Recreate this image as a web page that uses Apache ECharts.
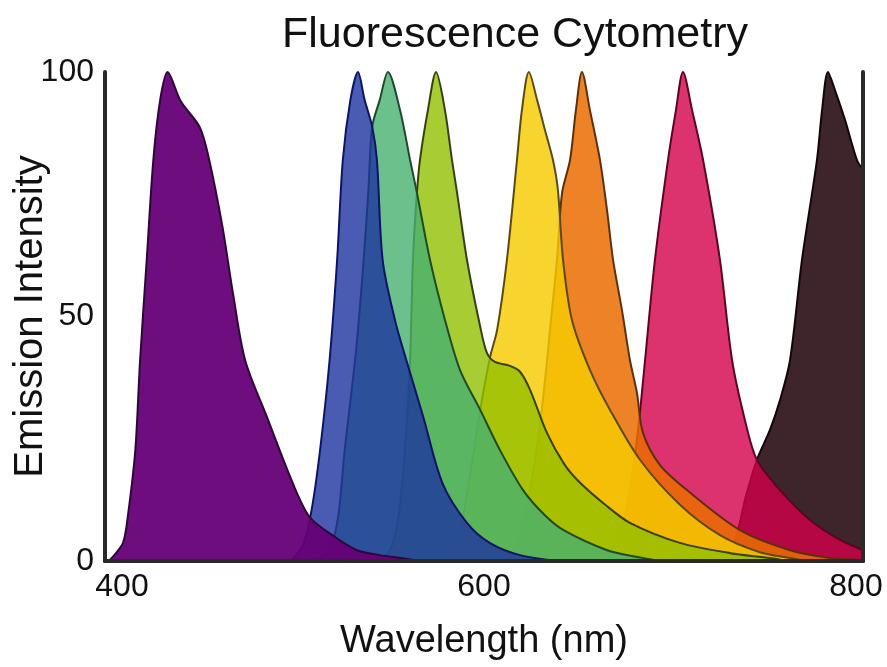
<!DOCTYPE html>
<html>
<head>
<meta charset="utf-8">
<script src="https://cdn.jsdelivr.net/npm/echarts@6/dist/echarts.min.js"></script>
<style>
html,body{margin:0;padding:0;background:#fff;}
#chart{width:887px;height:667px;}
</style>
</head>
<body>
<div id="chart"></div>
<script>
// Data (wavelength nm, emission intensity %)
const purpleX = [402, 404, 409.5, 412, 416, 418.5, 422, 425.5, 429, 433, 440, 450, 455, 462, 467.5, 474, 485.5, 499, 508, 521, 533, 545, 556, 566];
const purpleY = [0, 0.8, 3.7, 9, 22.7, 41, 61.5, 82, 94, 100, 94, 88.7, 82, 68.3, 54.8, 41, 29.4, 16, 9, 5, 2.2, 1.2, 0.6, 0];
const blueX = [498, 504.5, 509, 513.5, 518.5, 522.5, 525.5, 529.5, 533.5, 537, 541, 543.5, 546.5, 553, 559, 568, 578, 591, 603, 619, 640];
const blueY = [0, 3.3, 10.4, 22.7, 41, 61.6, 82, 94.3, 100, 94.3, 88.8, 82, 61.6, 49.3, 41.1, 29.4, 16, 7.8, 3.7, 1.2, 0];
const tealX = [511, 518.5, 523, 526.5, 532.5, 536.5, 539, 541, 545, 549.3, 555.7, 561, 564.6, 571.5, 579.4, 587.3, 598, 608.4, 620.6, 632, 642, 665, 681, 693];
const tealY = [0, 2.2, 9, 22.7, 43.1, 61.6, 75.9, 88.8, 94.3, 100, 92.2, 82, 75.3, 61.6, 49.3, 39.1, 30.9, 22.7, 14.5, 9.4, 6.3, 2.2, 0.8, 0];
const limeX = [544, 550.4, 554.6, 558.3, 561, 562.5, 564.6, 566.2, 570.4, 574.7, 579.4, 583.1, 585.8, 591, 598, 601.6, 605.8, 613.7, 619, 624.3, 633.2, 642.7, 650.7, 664, 677, 703.4, 730, 751, 760];
const limeY = [0, 2.2, 8.4, 22.7, 41.1, 61.6, 75.3, 82, 92.2, 100, 92.2, 82, 75.3, 61.6, 47.9, 42.5, 40.7, 39.9, 38.7, 35, 26.2, 19.6, 16, 11.5, 7.8, 3.7, 1.6, 0.6, 0];
const yellowX = [580, 586.3, 590.5, 594.7, 598.9, 603.2, 606.9, 612.1, 617.4, 620, 623.7, 628, 632.2, 636.4, 639, 641.7, 646.4, 655.9, 666.5, 682.3, 703.4, 724.5, 745.6, 761.5, 770];
const yellowY = [0, 4.3, 12.5, 22.7, 32.9, 41.7, 47.2, 61.6, 82, 92.2, 100, 94.3, 88.1, 82, 75.9, 61.6, 49.3, 39.1, 30.9, 20.7, 11.5, 5.3, 1.8, 0.6, 0];
const orangeX = [608, 616.4, 623.2, 628.5, 632.2, 634.8, 638.5, 641.2, 645.4, 648.5, 651.7, 655.9, 661.2, 664.9, 668.1, 672.8, 677, 680.7, 683.9, 692.9, 707.1, 735.1, 761.5, 782.6, 800];
const orangeY = [0, 3.3, 12.5, 24.7, 37, 47.2, 61.6, 75.3, 82, 92.2, 100, 92.2, 82, 71.8, 61.6, 51.3, 41.1, 34.4, 26.2, 19.6, 14.5, 6.3, 2.2, 0.6, 0.2];
const pinkX = [654, 663.9, 671.8, 677, 681.3, 685, 690.2, 697.1, 701.3, 705, 709.8, 715.6, 724.5, 730.9, 737.7, 744, 756.2, 772, 787.9, 800];
const pinkY = [0, 1.8, 6.3, 14.5, 26.8, 41.1, 61.6, 82, 92.2, 100, 92.2, 82, 61.6, 41.1, 28.8, 20.7, 14.5, 8.4, 4.3, 2.2];
const brownX = [722, 729.8, 734, 737.7, 744, 750.9, 756.2, 761.5, 767.8, 775.7, 778.4, 781.5, 785.2, 790.5, 796.8, 800];
const brownY = [0, 2.2, 6.3, 12.5, 20.7, 26.8, 32.9, 41.1, 61.6, 82, 92.2, 100, 96.3, 90.2, 82, 80];

const xTicks = [400, 600, 800];
const yTicks = [0, 50, 100];

const dyes = [
  {name: 'purple', x: purpleX, y: purpleY, fill: '#660077', line: '#2e0638', op: 0.95},
  {name: 'blue',   x: blueX,   y: blueY,   fill: '#1d339e', line: '#0c1466', op: 0.8},
  {name: 'teal',   x: tealX,   y: tealY,   fill: '#47b06f', line: '#1f4a2c', op: 0.8},
  {name: 'lime',   x: limeX,   y: limeY,   fill: '#92bf00', line: '#35420e', op: 0.8},
  {name: 'yellow', x: yellowX, y: yellowY, fill: '#f5cc00', line: '#5c4a10', op: 0.82},
  {name: 'orange', x: orangeX, y: orangeY, fill: '#ea6d00', line: '#5e3008', op: 0.85},
  {name: 'pink',   x: pinkX,   y: pinkY,   fill: '#d3004a', line: '#5e0422', op: 0.8},
  {name: 'brown',  x: brownX,  y: brownY,  fill: '#341820', line: '#140606', op: 0.95}
];

const series = dyes.map((d, i) => ({
  name: d.name,
  type: 'line',
  data: d.x.map((v, k) => [v, d.y[k]]),
  showSymbol: false,
  smooth: 0.3,
  z: 20 - i,
  lineStyle: {color: d.line, width: 2},
  areaStyle: {color: d.fill, opacity: d.op},
  silent: true
}));

const font = 'Liberation Sans, Arial, sans-serif';
const tickText = {fontFamily: font, fontSize: 32, color: '#111'};
const chart = echarts.init(document.getElementById('chart'), null, {renderer: 'canvas'});
chart.setOption({
  backgroundColor: '#ffffff',
  animation: false,
  title: {
    text: 'Fluorescence Cytometry',
    left: 277, top: 9,
    textStyle: {fontFamily: font, fontSize: 43, fontWeight: 'normal', color: '#111'}
  },
  grid: {left: 105, right: 24, top: 72, bottom: 106, containLabel: false, outerBoundsMode: 'none'},
  xAxis: [{
    type: 'value', min: xTicks[0], max: xTicks[2], interval: 200,
    position: 'bottom', z: 30,
    axisLine: {lineStyle: {color: '#2a2a2a', width: 4}},
    axisTick: {show: false}, splitLine: {show: false},
    axisLabel: {
      fontFamily: font, fontSize: 32, color: '#111', margin: 10,
      formatter: v => {
        if (!xTicks.includes(v)) return '';
        if (v === xTicks[0]) return '{a|' + v + '}';
        if (v === xTicks[2]) return '{b|' + v + '}';
        return '{c|' + v + '}';
      },
      rich: {
        a: Object.assign({padding: [0, 0, 0, 34]}, tickText),
        b: Object.assign({padding: [0, 14, 0, 0]}, tickText),
        c: Object.assign({}, tickText)
      }
    },
    name: 'Wavelength (nm)', nameLocation: 'middle', nameGap: 62, nameMoveOverlap: false,
    nameTextStyle: {fontFamily: font, fontSize: 38, color: '#111'}
  }, {
    type: 'value', min: 400, max: 800, position: 'top', z: 30,
    axisLine: {lineStyle: {color: '#2a2a2a', width: 4}},
    axisTick: {show: false}, axisLabel: {show: false}, splitLine: {show: false}
  }],
  yAxis: [{
    type: 'value', min: yTicks[0], max: yTicks[2], interval: 50,
    position: 'left', z: 30,
    axisLine: {show: true, lineStyle: {color: '#2a2a2a', width: 4}},
    axisTick: {show: false}, splitLine: {show: false},
    axisLabel: {fontFamily: font, fontSize: 32, color: '#111', margin: 11},
    name: 'Emission Intensity', nameLocation: 'middle', nameGap: 54, nameMoveOverlap: false,
    nameTextStyle: {fontFamily: font, fontSize: 40, color: '#111'}
  }, {
    type: 'value', min: 0, max: 100, position: 'right', z: 30,
    axisLine: {show: true, lineStyle: {color: '#2a2a2a', width: 4}},
    axisTick: {show: false}, axisLabel: {show: false}, splitLine: {show: false}
  }],
  series: series
});
</script>
</body>
</html>
